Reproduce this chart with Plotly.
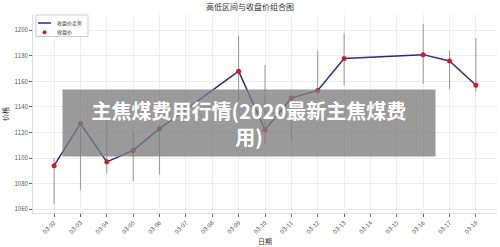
import plotly.graph_objects as go
import pandas as pd

dates = ["2020-03-02", "2020-03-03", "2020-03-04", "2020-03-05", "2020-03-06",
         "2020-03-09", "2020-03-10", "2020-03-11", "2020-03-12", "2020-03-13",
         "2020-03-16", "2020-03-17", "2020-03-18"]
close = [1094, 1127, 1097, 1106, 1123, 1168, 1122, 1147, 1153, 1178, 1181, 1176, 1157]
high = [1100, 1128, 1132, 1121, 1126, 1196, 1173, 1149, 1184, 1198, 1205, 1184, 1194]
low = [1064, 1075, 1088, 1082, 1087, 1145, 1111, 1113, 1148, 1157, 1158, 1154, 1152]

title = "高低区间与收盘价组合图"
banner = "主焦煤费用行情(2020最新主焦煤费<br>用)"
legend_line_name = "收盘价走势"
legend_dot_name = "收盘价"

FONT = "Noto Sans CJK SC"
LINE_COLOR = "#2a2a8c"
DOT_COLOR = "#cc1f25"

W, H = 500, 247
ML, MR, MT, MB = 33, 3, 15, 34
PW, PH = W - ML - MR, H - MT - MB


def px(xp):
    return (xp - ML) / PW


def py(yp):
    return (H - MB - yp) / PH


x = pd.to_datetime(dates)
err_plus = [h - c for h, c in zip(high, close)]
err_minus = [c - l for c, l in zip(close, low)]

fig = go.Figure()
# high-low range whiskers
fig.add_trace(go.Scatter(
    x=x, y=close, mode="markers", marker=dict(size=1, color="rgba(0,0,0,0)"),
    error_y=dict(type="data", symmetric=False, array=err_plus, arrayminus=err_minus,
                 color="rgba(120,120,120,0.75)", thickness=1, width=0),
    showlegend=False, hoverinfo="skip"))
fig.add_trace(go.Scatter(
    x=x, y=close, mode="lines", name=legend_line_name, showlegend=False,
    line=dict(color=LINE_COLOR, width=1.5)))
fig.add_trace(go.Scatter(
    x=x, y=close, mode="markers", name=legend_dot_name, showlegend=False,
    marker=dict(color=DOT_COLOR, size=5)))

span = (x.max() - x.min())
pad = span * 0.05
ymin, ymax = min(low), max(high)
ypad = (ymax - ymin) * 0.05

fig.update_layout(
    width=W, height=H,
    margin=dict(l=ML, r=MR, t=MT, b=MB),
    paper_bgcolor="white", plot_bgcolor="white",
    font=dict(family=FONT, size=6, color="#444"),
    title=dict(text=title, x=0.5, xanchor="center", y=0.972, yanchor="middle",
               font=dict(size=8, color="#333", family=FONT)),
    showlegend=False,
)
fig.update_xaxes(
    type="date", range=[x.min() - pad, x.max() + pad],
    tick0=x.min(), dtick=86400000, tickformat="%m-%d", tickangle=-45,
    showgrid=True, gridcolor="#ececec", gridwidth=1,
    ticks="outside", ticklen=3, tickcolor="#666", tickfont=dict(size=6, color="#555"),
    showline=True, linecolor="#dddddd", linewidth=1, zeroline=False,
    title=dict(text="日期", font=dict(size=7, color="#333"), standoff=4),
)
fig.update_yaxes(
    range=[ymin - ypad, ymax + ypad], dtick=20, tick0=1060,
    showgrid=True, gridcolor="#ececec", gridwidth=1,
    ticks="outside", ticklen=3, tickcolor="#666", tickfont=dict(size=6, color="#555"),
    showline=True, linecolor="#dddddd", linewidth=1, zeroline=False,
    title=dict(text="价格", font=dict(size=7, color="#333"), standoff=6),
)

# compact legend box (matches the small legend of the reference)
fig.add_shape(type="rect", xref="paper", yref="paper",
              x0=px(36), x1=px(88), y0=py(36.5), y1=py(15),
              fillcolor="rgba(255,255,255,0.9)", line=dict(color="#cccccc", width=1))
fig.add_shape(type="line", xref="paper", yref="paper",
              x0=px(38), x1=px(51), y0=py(23), y1=py(23),
              line=dict(color=LINE_COLOR, width=1.5))
fig.add_shape(type="circle", xref="paper", yref="paper",
              x0=px(42.5), x1=px(46.5), y0=py(34.3), y1=py(30.3),
              fillcolor=DOT_COLOR, line=dict(color=DOT_COLOR, width=0))
fig.add_annotation(xref="paper", yref="paper", x=px(55), y=py(23), xanchor="left",
                   yanchor="middle", text=legend_line_name, showarrow=False,
                   font=dict(size=5, color="#333", family=FONT))
fig.add_annotation(xref="paper", yref="paper", x=px(55), y=py(32.3), xanchor="left",
                   yanchor="middle", text=legend_dot_name, showarrow=False,
                   font=dict(size=5, color="#333", family=FONT))

fig.add_annotation(
    xref="paper", yref="paper", x=px(249), y=py(123), xanchor="center", yanchor="middle",
    text=banner, showarrow=False, align="center",
    width=372, height=66, bgcolor="rgba(125,125,125,0.78)", borderpad=0,
    font=dict(family=FONT, size=20, color="white", weight="bold"),
)

fig.write_html("out.html")
